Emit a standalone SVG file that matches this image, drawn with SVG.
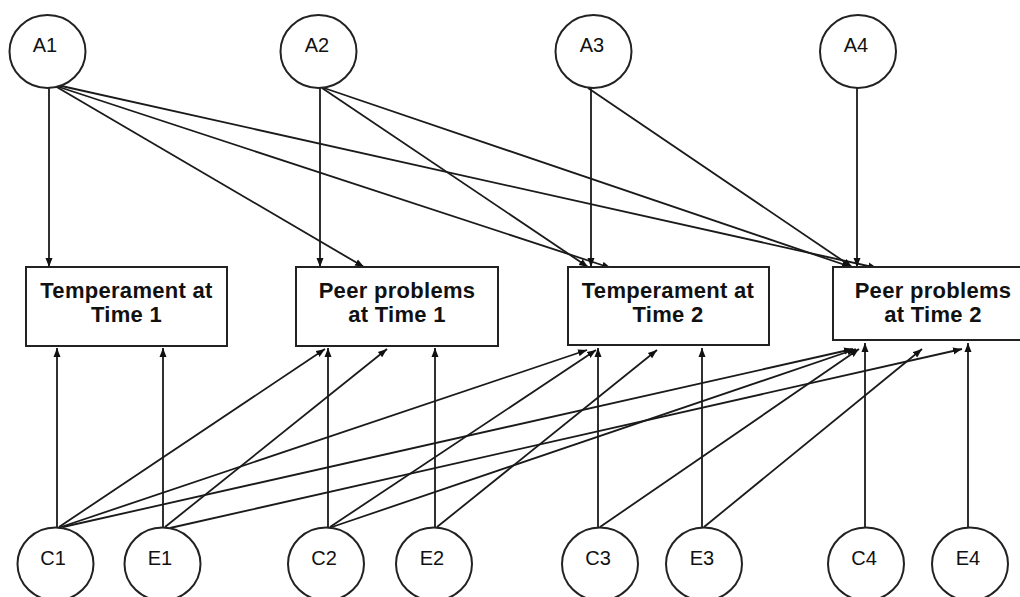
<svg xmlns="http://www.w3.org/2000/svg" width="1020" height="597" viewBox="0 0 1020 597">
<style>
.c{fill:#fff;stroke:#222;stroke-width:2}
.b{fill:#fff;stroke:#222;stroke-width:2}
.l{font-family:"Liberation Sans",Arial,sans-serif;font-size:20px;fill:#111;text-anchor:middle}
.t{font-family:"Liberation Sans",Arial,sans-serif;font-size:22px;font-weight:bold;fill:#111;text-anchor:middle;letter-spacing:0.3px}
#edges line{stroke:#1a1a1a;stroke-width:1.8;marker-end:url(#ah)}
</style>
<defs>
<marker id="ah" markerUnits="userSpaceOnUse" markerWidth="10" markerHeight="8" refX="9" refY="4" orient="auto"><path d="M0,0.5 L9,4 L0,7.5 z" fill="#111"/></marker>
</defs>
<rect width="1020" height="597" fill="#fff"/>
<g id="edges">
<line x1="49" y1="88" x2="49" y2="267"/>
<line x1="55" y1="86" x2="364" y2="267"/>
<line x1="56" y1="86" x2="611" y2="268"/>
<line x1="57" y1="85" x2="877" y2="268"/>
<line x1="320" y1="88" x2="320" y2="267"/>
<line x1="322" y1="88" x2="588" y2="267"/>
<line x1="324" y1="88" x2="851" y2="267"/>
<line x1="591" y1="88" x2="591" y2="267"/>
<line x1="588" y1="88" x2="852" y2="267"/>
<line x1="857" y1="88" x2="857" y2="267"/>
<line x1="57" y1="528" x2="57" y2="348"/>
<line x1="59" y1="527" x2="325" y2="349"/>
<line x1="61" y1="527" x2="587" y2="350"/>
<line x1="63" y1="527" x2="853" y2="349"/>
<line x1="163" y1="528" x2="163" y2="348"/>
<line x1="165" y1="527" x2="387" y2="349"/>
<line x1="170" y1="528" x2="962" y2="349"/>
<line x1="328" y1="528" x2="328" y2="348"/>
<line x1="330" y1="527" x2="596" y2="350"/>
<line x1="332" y1="527" x2="856" y2="349"/>
<line x1="435" y1="528" x2="435" y2="348"/>
<line x1="437" y1="527" x2="657" y2="350"/>
<line x1="598" y1="528" x2="598" y2="348"/>
<line x1="600" y1="527" x2="859" y2="349"/>
<line x1="702" y1="528" x2="702" y2="348"/>
<line x1="704" y1="527" x2="922" y2="349"/>
<line x1="865" y1="528" x2="865" y2="343"/>
<line x1="968" y1="528" x2="968" y2="343"/>
</g>
<g id="A1"><ellipse class="c" cx="47.5" cy="51.5" rx="38" ry="36.5"/><text class="l" x="45" y="52">A1</text></g>
<g id="A2"><ellipse class="c" cx="318.5" cy="51.5" rx="38" ry="36.5"/><text class="l" x="317" y="52">A2</text></g>
<g id="A3"><ellipse class="c" cx="593.5" cy="51.5" rx="38" ry="36.5"/><text class="l" x="592" y="52">A3</text></g>
<g id="A4"><ellipse class="c" cx="858" cy="51.5" rx="38" ry="36.5"/><text class="l" x="856" y="52">A4</text></g>
<g id="T1"><rect class="b" x="26" y="267" width="201" height="79"/><text class="t" x="126.5" y="298">Temperament at</text><text class="t" x="126.5" y="322">Time 1</text></g>
<g id="P1"><rect class="b" x="296" y="267" width="202" height="79"/><text class="t" x="397" y="298">Peer problems</text><text class="t" x="397" y="322">at Time 1</text></g>
<g id="T2"><rect class="b" x="568" y="267" width="201" height="78"/><text class="t" x="668" y="298">Temperament at</text><text class="t" x="668" y="322">Time 2</text></g>
<g id="P2"><rect class="b" x="833" y="267" width="190" height="73"/><text class="t" x="933" y="298">Peer problems</text><text class="t" x="933" y="322">at Time 2</text></g>
<g id="C1"><ellipse class="c" cx="55.5" cy="564" rx="38" ry="36.5"/><text class="l" x="53" y="565">C1</text></g>
<g id="E1"><ellipse class="c" cx="162.5" cy="564" rx="38" ry="36.5"/><text class="l" x="160" y="565">E1</text></g>
<g id="C2"><ellipse class="c" cx="326" cy="564" rx="38" ry="36.5"/><text class="l" x="324" y="565">C2</text></g>
<g id="E2"><ellipse class="c" cx="434" cy="564" rx="38" ry="36.5"/><text class="l" x="432" y="565">E2</text></g>
<g id="C3"><ellipse class="c" cx="600" cy="564" rx="38" ry="36.5"/><text class="l" x="598" y="565">C3</text></g>
<g id="E3"><ellipse class="c" cx="704" cy="564" rx="38" ry="36.5"/><text class="l" x="702" y="565">E3</text></g>
<g id="C4"><ellipse class="c" cx="866" cy="564" rx="38" ry="36.5"/><text class="l" x="864" y="565">C4</text></g>
<g id="E4"><ellipse class="c" cx="970" cy="564" rx="38" ry="36.5"/><text class="l" x="968" y="565">E4</text></g>
</svg>
